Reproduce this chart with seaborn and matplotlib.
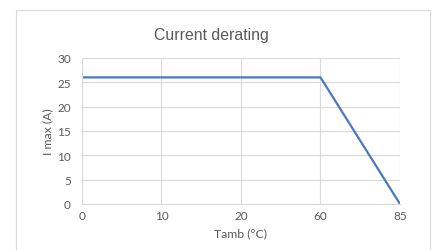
import matplotlib
matplotlib.use("Agg")
import matplotlib.pyplot as plt
import pandas as pd
import seaborn as sns
from matplotlib.patches import Rectangle


TITLE = "Current derating"
X_LABEL = "Tamb (°C)"
Y_LABEL = "I max (A)"
TAMB = ["0", "10", "20", "60", "85"]
I_MAX = [26, 26, 26, 26, 0]
Y_TICKS = [0, 5, 10, 15, 20, 25, 30]

LINE_COLOR = "#4a78c2"
GRID_COLOR = "#d9d9d9"
TEXT_COLOR = "#595959"


def build_chart():
    sns.set_style("white")
    plt.rcParams["font.family"] = ["Lato", "DejaVu Sans"]

    df = pd.DataFrame({"tamb": TAMB, "imax": I_MAX})

    fig = plt.figure(figsize=(4.35, 2.51), dpi=100)
    ax = fig.add_axes([0.1885, 0.1833, 0.731, 0.582])

    sns.lineplot(data=df, x="tamb", y="imax", ax=ax, color=LINE_COLOR, linewidth=1.6)

    ax.set_xlim(0, len(TAMB) - 1)
    ax.set_ylim(0, 30)
    ax.set_yticks(Y_TICKS)
    ax.grid(True, color=GRID_COLOR, linewidth=0.8)
    ax.set_axisbelow(True)
    for side in ["top", "right"]:
        ax.spines[side].set_visible(False)
    for side in ["left", "bottom"]:
        ax.spines[side].set_color(GRID_COLOR)
        ax.spines[side].set_linewidth(0.8)

    ax.tick_params(axis="both", length=0, labelsize=8.5, colors=TEXT_COLOR)
    ax.tick_params(axis="y", pad=8)
    ax.tick_params(axis="x", pad=4)

    ax.set_xlabel(X_LABEL, fontsize=8.8, color=TEXT_COLOR, labelpad=5)
    ax.set_ylabel(Y_LABEL, fontsize=8.8, color=TEXT_COLOR, labelpad=3)
    fig.text(0.485, 0.86, TITLE, ha="center", va="center", fontsize=11.4,
             color=TEXT_COLOR, family=["Liberation Sans", "DejaVu Sans"])

    fig.add_artist(Rectangle((0.037, -0.05), 0.9515, 1.006, transform=fig.transFigure,
                             fill=False, edgecolor=GRID_COLOR, linewidth=0.8))

    fig.savefig("out.png", dpi=100)
    plt.close(fig)


if __name__ == "__main__":
    build_chart()
